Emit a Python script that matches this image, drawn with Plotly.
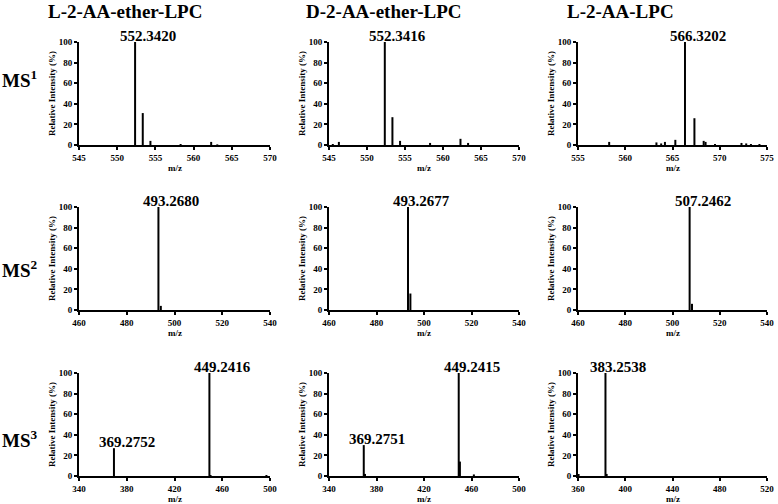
# MS spectra grid: L/D-2-AA-ether-LPC and L-2-AA-LPC, MS1-MS3
import plotly.graph_objects as go

col_titles = ["L-2-AA-ether-LPC", "D-2-AA-ether-LPC", "L-2-AA-LPC"]
row_labels = ["MS<sup>1</sup>", "MS<sup>2</sup>", "MS<sup>3</sup>"]

# MS1 spectra
l_ether_ms1_mz = [552.342, 553.345, 554.35, 558.3, 562.3, 563.1]
l_ether_ms1_int = [100, 31, 4, 1, 3, 0.6]
d_ether_ms1_mz = [545.5, 546.3, 552.342, 553.345, 554.35, 558.3, 562.3, 563.3]
d_ether_ms1_int = [1, 3, 100, 27, 4, 2, 6, 2]
l_lpc_ms1_mz = [558.3, 563.3, 563.8, 564.2, 565.3, 566.32, 567.32, 568.3, 568.5,
                569.5, 572.3, 572.8, 573.3, 574.2]
l_lpc_ms1_int = [3, 2.5, 1.5, 3, 5, 100, 26, 4, 3, 1, 2, 1.5, 1, 1]

# MS2 spectra
l_ether_ms2_mz = [493.268, 494.27]
l_ether_ms2_int = [100, 4]
d_ether_ms2_mz = [493.268, 494.27]
d_ether_ms2_int = [100, 16]
l_lpc_ms2_mz = [507.246, 508.25]
l_lpc_ms2_int = [100, 6]

# MS3 spectra
l_ether_ms3_mz = [369.275, 449.242, 450.2, 497.0]
l_ether_ms3_int = [27, 100, 1, 1]
d_ether_ms3_mz = [369.275, 370.3, 449.242, 450.24, 462.0]
d_ether_ms3_int = [30, 2, 100, 14, 1.5]
l_lpc_ms3_mz = [360.5, 383.254, 384.25]
l_lpc_ms3_int = [2, 100, 2]

# labelled peaks: (m/z, intensity, text)
labels = [
    [[(552.342, 100, "552.3420")], [(552.342, 100, "552.3416")], [(566.32, 100, "566.3202")]],
    [[(493.268, 100, "493.2680")], [(493.268, 100, "493.2677")], [(507.246, 100, "507.2462")]],
    [[(369.275, 27, "369.2752"), (449.242, 100, "449.2416")],
     [(369.275, 30, "369.2751"), (449.242, 100, "449.2415")],
     [(383.254, 100, "383.2538")]],
]

spectra = [
    [(l_ether_ms1_mz, l_ether_ms1_int), (d_ether_ms1_mz, d_ether_ms1_int), (l_lpc_ms1_mz, l_lpc_ms1_int)],
    [(l_ether_ms2_mz, l_ether_ms2_int), (d_ether_ms2_mz, d_ether_ms2_int), (l_lpc_ms2_mz, l_lpc_ms2_int)],
    [(l_ether_ms3_mz, l_ether_ms3_int), (d_ether_ms3_mz, d_ether_ms3_int), (l_lpc_ms3_mz, l_lpc_ms3_int)],
]

x_ranges = [
    [(545, 570, 5), (545, 570, 5), (555, 575, 5)],
    [(460, 540, 20), (460, 540, 20), (460, 540, 20)],
    [(340, 500, 40), (340, 500, 40), (360, 520, 40)],
]

W, H = 778, 504
col_px = [(79, 270), (329, 519), (578, 767)]
row_px = [(42, 145), (207, 310), (373, 476)]
title_cx = [125, 383, 620]
row_label_cy = [79, 269, 439]

SERIF = "Liberation Serif"


def sticks(mz, inten):
    xs, ys = [], []
    for m, i in zip(mz, inten):
        xs += [m, m, None]
        ys += [0, i, None]
    return xs, ys


fig = go.Figure()
annotations = []

for r in range(3):
    for c in range(3):
        k = r * 3 + c + 1
        xa = "x" if k == 1 else f"x{k}"
        ya = "y" if k == 1 else f"y{k}"
        mz, inten = spectra[r][c]
        xs, ys = sticks(mz, inten)
        fig.add_trace(go.Scatter(
            x=xs, y=ys, mode="lines",
            line=dict(color="black", width=2),
            xaxis=xa, yaxis=ya, showlegend=False, hoverinfo="skip"
        ))

        x0, x1, dt = x_ranges[r][c]
        left, right = col_px[c]
        top, bottom = row_px[r]
        axis_common = dict(
            showline=True, linecolor="black", linewidth=2,
            ticks="outside", ticklen=3, tickwidth=1.5, tickcolor="black",
            showgrid=False, zeroline=False, automargin=False,
            ticklabeloverflow="allow",
            tickfont=dict(family=SERIF, size=9, color="black", weight="bold"),
        )
        fig.layout[f"xaxis{'' if k == 1 else k}"] = dict(
            axis_common,
            domain=[left / W, right / W],
            range=[x0, x1], dtick=dt, tick0=x0,
            anchor=ya,
        )
        fig.layout[f"yaxis{'' if k == 1 else k}"] = dict(
            axis_common,
            domain=[1 - bottom / H, 1 - top / H],
            range=[0, 100], dtick=20,
            anchor=xa,
            title=dict(text="Relative Intensity (%)", standoff=2,
                       font=dict(family=SERIF, size=9, color="black", weight="bold")),
        )

        # x-axis title
        annotations.append(dict(
            x=(left + right) / 2 / W, y=1 - (bottom + 23) / H,
            xref="paper", yref="paper", text="<b>m/z</b>", showarrow=False,
            xanchor="center", yanchor="middle",
            font=dict(family=SERIF, size=9, color="black"),
        ))

        for (px, py, txt) in labels[r][c]:
            annotations.append(dict(
                x=px, y=py, xref=xa, yref=ya, text=f"<b>{txt}</b>",
                showarrow=False, xanchor="center", yanchor="bottom",
                xshift=13, yshift=-4,
                font=dict(family=SERIF, size=15, color="black"),
            ))

# column titles
for c, t in enumerate(col_titles):
    annotations.append(dict(
        x=title_cx[c] / W, y=1 - 11 / H, xref="paper", yref="paper",
        text=f"<b>{t}</b>", showarrow=False, xanchor="center", yanchor="middle",
        font=dict(family=SERIF, size=19, color="black"),
    ))

# row labels
for r, t in enumerate(row_labels):
    annotations.append(dict(
        x=0, y=1 - row_label_cy[r] / H, xref="paper", yref="paper",
        text=f"<b>{t}</b>", showarrow=False, xanchor="left", yanchor="middle",
        font=dict(family=SERIF, size=19, color="black"),
    ))

fig.update_layout(
    width=W, height=H,
    margin=dict(l=0, r=0, t=0, b=0),
    paper_bgcolor="white", plot_bgcolor="white",
    annotations=annotations,
)

# page body has a default 8px margin; drop it so the figure fills the window
fig.write_html("out.html", config={"displayModeBar": False},
               post_script="document.body.style.margin='0';")
